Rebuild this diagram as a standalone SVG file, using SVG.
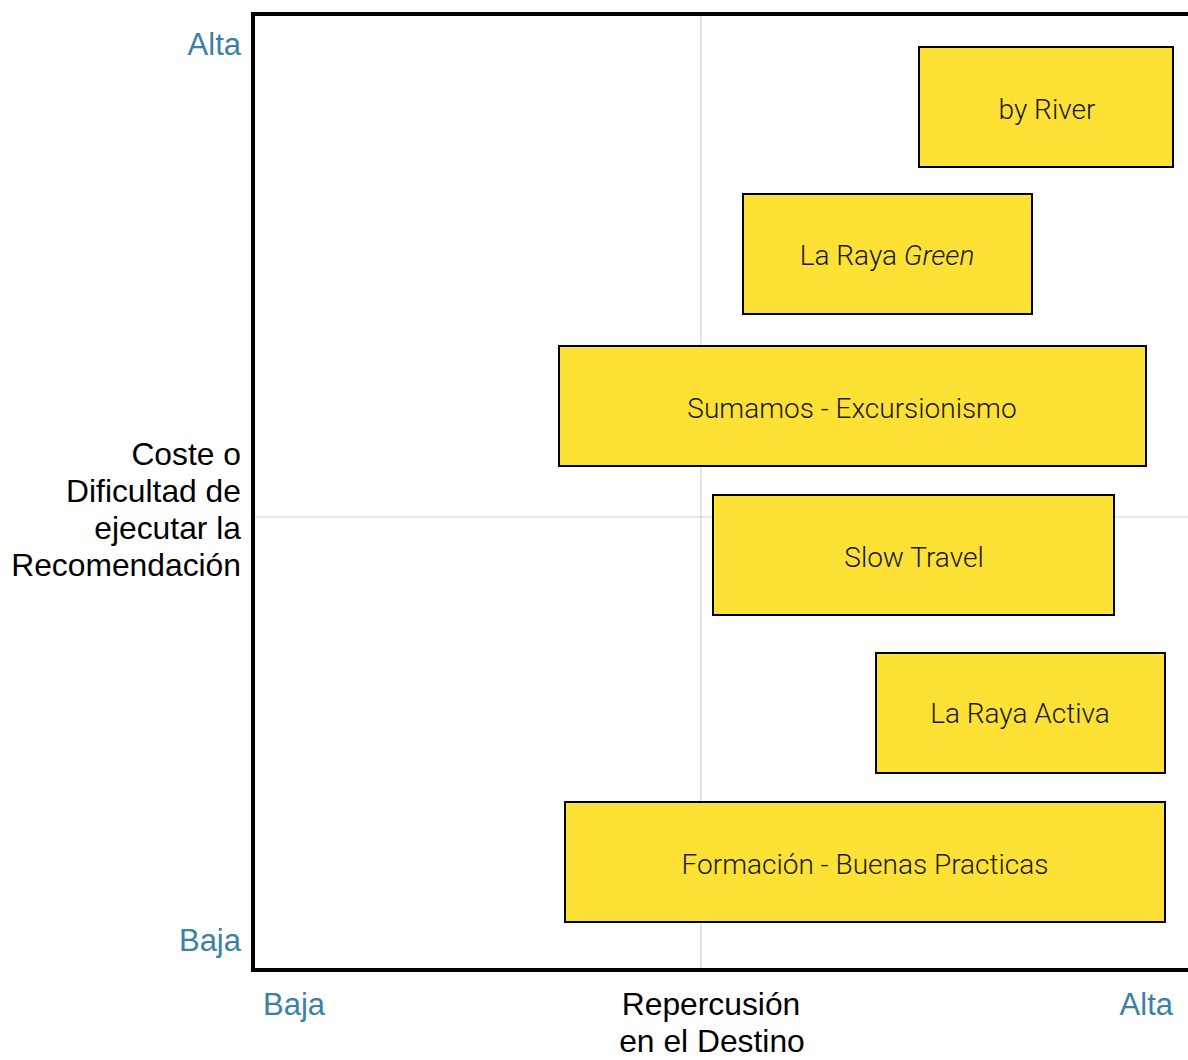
<svg xmlns="http://www.w3.org/2000/svg" width="1188" height="1060" viewBox="0 0 1188 1060">
<style>
.box{fill:#FDE134;stroke:#000;stroke-width:2}
.bt{font-family:Roboto,"Liberation Sans",sans-serif;font-weight:300;font-size:28px;fill:#1a1a1a;text-anchor:middle}
.ax{font-family:"Liberation Sans",Arial,sans-serif;font-size:31px;fill:#3B80A6}
.lab{font-family:"Liberation Sans",Arial,sans-serif;font-size:31.8px;fill:#000}
.grid{stroke:#d0d0d0;stroke-width:1.2}
.axis{stroke:#000;stroke-width:4;fill:none}
</style>
<rect width="1188" height="1060" fill="#fff"/>
<g id="grid">
<line class="grid" x1="701" y1="14" x2="701" y2="970"/>
<line class="grid" x1="253" y1="517" x2="1188" y2="517"/>
</g>
<g id="axes">
<path class="axis" d="M1188 14 H253 V970 H1188"/>
</g>
<g id="labels">
<text class="ax" x="241" y="55" text-anchor="end">Alta</text>
<text class="ax" x="241" y="951" text-anchor="end">Baja</text>
<text class="ax" x="263" y="1015">Baja</text>
<text class="ax" x="1173" y="1015" text-anchor="end">Alta</text>
<text class="lab" x="711" y="1015" text-anchor="middle">Repercusión</text>
<text class="lab" x="712" y="1052" text-anchor="middle">en el Destino</text>
<text class="lab" x="241" y="465" text-anchor="end">Coste o</text>
<text class="lab" x="241" y="502" text-anchor="end">Dificultad de</text>
<text class="lab" x="241" y="539" text-anchor="end">ejecutar la</text>
<text class="lab" x="241" y="576" text-anchor="end">Recomendación</text>
</g>
<g id="connectors"></g>
<g id="node-byriver">
<rect class="box" x="919" y="47" width="254" height="120"/>
<text class="bt" x="1047" y="119">by River</text>
</g>
<g id="node-larayagreen">
<rect class="box" x="743" y="194" width="289" height="120"/>
<text class="bt" x="887" y="265">La Raya <tspan font-style="italic">Green</tspan></text>
</g>
<g id="node-sumamos">
<rect class="box" x="559" y="346" width="587" height="120"/>
<text class="bt" x="852" y="418">Sumamos - Excursionismo</text>
</g>
<g id="node-slowtravel">
<rect class="box" x="713" y="495" width="401" height="120"/>
<text class="bt" x="914" y="567">Slow Travel</text>
</g>
<g id="node-larayaactiva">
<rect class="box" x="876" y="653" width="289" height="120"/>
<text class="bt" x="1020" y="723">La Raya Activa</text>
</g>
<g id="node-formacion">
<rect class="box" x="565" y="802" width="600" height="120"/>
<text class="bt" x="865" y="874">Formación - Buenas Practicas</text>
</g>
</svg>
